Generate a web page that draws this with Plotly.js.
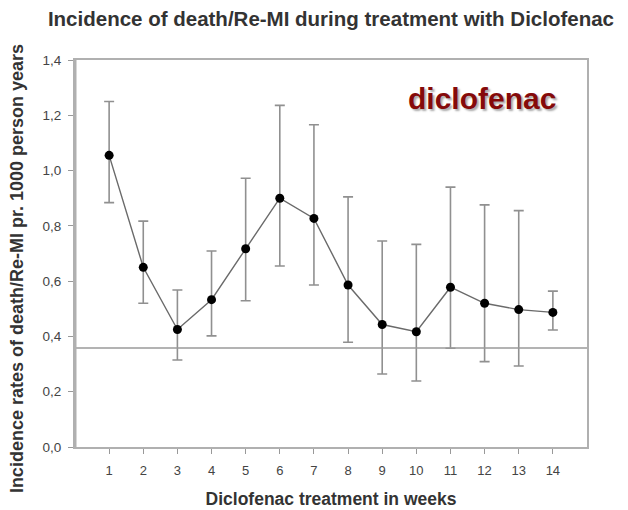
<!DOCTYPE html>
<html>
<head>
<meta charset="utf-8">
<script src="https://cdn.plot.ly/plotly-3.0.1.min.js"></script>
<style>
  html, body { margin: 0; padding: 0; background: #fff; }
  #chart { width: 628px; height: 510px; }
</style>
</head>
<body>
<div id="chart"></div>
<script>
// Weekly incidence rates with 95% confidence limits
const weeks = [1, 2, 3, 4, 5, 6, 7, 8, 9, 10, 11, 12, 13, 14];
const rate  = [1.055, 0.650, 0.425, 0.533, 0.717, 0.900, 0.827, 0.586, 0.443, 0.417, 0.578, 0.520, 0.497, 0.487];
const upper = [1.250, 0.817, 0.568, 0.709, 0.972, 1.236, 1.166, 0.905, 0.745, 0.733, 0.940, 0.876, 0.855, 0.564];
const lower = [0.884, 0.520, 0.315, 0.402, 0.529, 0.655, 0.586, 0.379, 0.264, 0.239, 0.357, 0.309, 0.293, 0.423];
const baseline = 0.358;

const yTickVals = [0, 0.2, 0.4, 0.6, 0.8, 1.0, 1.2, 1.4];
const yTickText = ['0,0', '0,2', '0,4', '0,6', '0,8', '1,0', '1,2', '1,4'];

const errPlus  = rate.map((v, i) => upper[i] - v);
const errMinus = rate.map((v, i) => v - lower[i]);

const trace = {
  x: weeks,
  y: rate,
  type: 'scatter',
  mode: 'lines+markers',
  line: { color: '#6a6a6a', width: 1.4 },
  marker: { color: '#000', size: 9 },
  error_y: {
    type: 'data',
    symmetric: false,
    array: errPlus,
    arrayminus: errMinus,
    color: '#909090',
    thickness: 1.6,
    width: 5
  },
  hoverinfo: 'skip'
};

const font = 'Arial, "Liberation Sans", Helvetica, sans-serif';
const boxColor = '#b0b0b0';

const layout = {
  width: 628,
  height: 510,
  paper_bgcolor: '#fff',
  plot_bgcolor: '#fff',
  margin: { l: 75, r: 41, t: 60, b: 63 },
  showlegend: false,
  font: { family: font, color: '#333' },
  title: {
    text: 'Incidence of death/Re-MI during treatment with Diclofenac',
    font: { family: font, size: 20.5, weight: 'bold', color: '#333' },
    x: 0.527, xanchor: 'center',
    y: 0.963, yanchor: 'middle'
  },
  xaxis: {
    range: [0, 15],
    tickmode: 'array',
    tickvals: weeks,
    ticktext: weeks.map(String),
    ticks: 'outside',
    ticklen: 5,
    tickwidth: 1,
    tickcolor: '#999',
    ticklabelstandoff: 5,
    tickfont: { size: 13, color: '#444' },
    showline: true,
    linecolor: boxColor,
    linewidth: 2,
    mirror: true,
    showgrid: false,
    zeroline: false,
    title: {
      text: 'Diclofenac treatment in weeks',
      font: { family: font, size: 17.5, weight: 'bold', color: '#333' },
      standoff: 16
    }
  },
  yaxis: {
    range: [0, 1.4],
    tickmode: 'array',
    tickvals: yTickVals,
    ticktext: yTickText,
    ticks: 'outside',
    ticklen: 5,
    tickwidth: 1,
    tickcolor: '#999',
    ticklabelstandoff: 4,
    tickfont: { size: 13.5, color: '#444' },
    showline: true,
    linecolor: boxColor,
    linewidth: 2,
    mirror: true,
    showgrid: false,
    zeroline: false
  },
  shapes: [
    {
      type: 'line', xref: 'x', yref: 'y',
      x0: 0, x1: 15, y0: baseline, y1: baseline,
      line: { color: '#9a9a9a', width: 1.5 }
    },
    {
      type: 'line', xref: 'paper', yref: 'paper',
      x0: 0, x1: 0, y0: 0, y1: 1,
      line: { color: boxColor, width: 3 }
    }
  ],
  annotations: [
    {
      text: 'Incidence rates of death/Re-MI pr. 1000 person years',
      xref: 'paper', yref: 'paper',
      x: -0.113, y: 0.46,
      xanchor: 'center', yanchor: 'middle',
      textangle: -90,
      showarrow: false,
      font: { family: font, size: 18, weight: 'bold', color: '#333' }
    },
    {
      text: 'diclofenac',
      xref: 'paper', yref: 'paper',
      x: 0.795, y: 0.9,
      xanchor: 'center', yanchor: 'middle',
      showarrow: false,
      font: { family: font, size: 30, weight: 'bold', color: '#850a0a', shadow: '2px 2px 2px #aaa' }
    }
  ]
};

Plotly.newPlot('chart', [trace], layout, { displayModeBar: false, staticPlot: true });
</script>
</body>
</html>
